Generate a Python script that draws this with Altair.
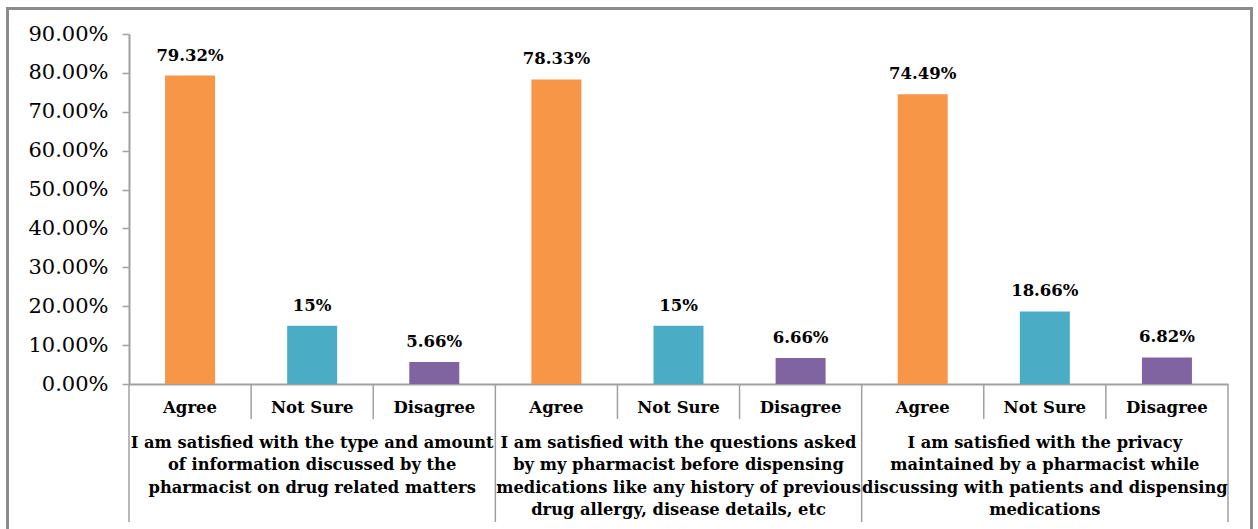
import altair as alt
import pandas as pd

# ---- data ----
responses = ["Agree", "Not Sure", "Disagree",
             "Agree", "Not Sure", "Disagree",
             "Agree", "Not Sure", "Disagree"]
values = [79.32, 15, 5.66, 78.33, 15, 6.66, 74.49, 18.66, 6.82]
value_labels = ["79.32%", "15%", "5.66%", "78.33%", "15%", "6.66%",
                "74.49%", "18.66%", "6.82%"]
group_labels = [
    "I am satisfied with the type and amount\nof information discussed by the\npharmacist on drug related matters",
    "I am satisfied with the questions asked\nby my pharmacist before dispensing\nmedications like any history of previous\ndrug allergy, disease details, etc",
    "I am satisfied with the privacy\nmaintained by a pharmacist while\ndiscussing with patients and dispensing\nmedications",
]
y_ticks = [0, 10, 20, 30, 40, 50, 60, 70, 80, 90]
colors = ["#F79646", "#4BACC6", "#8064A2"]
color_domain = ["Agree", "Not Sure", "Disagree"]

n = len(responses)
per_group = 3

bars = pd.DataFrame({
    "pos": [i + 0.5 for i in range(n)],
    "response": responses,
    "value": values,
    "label": value_labels,
})
groups = pd.DataFrame({
    "pos": [g * per_group + per_group / 2 for g in range(len(group_labels))],
    "text": group_labels,
})
cat_seps = pd.DataFrame({"pos": [i for i in range(1, n) if i % per_group != 0]})
grp_seps = pd.DataFrame({"pos": [i for i in range(0, n + 1, per_group)]})
frame = pd.DataFrame({"k": [0]})

W, H = 1099, 350
GRAY = "#A0A0A0"
FONT = "DejaVu Serif"

xscale = alt.Scale(domain=[0, n], nice=False, zero=False, padding=0)
yscale = alt.Scale(domain=[0, 90], nice=False)
xaxis = alt.Axis(labels=False, ticks=False, grid=False, title=None,
                 domainColor=GRAY, domainWidth=2)
yaxis = alt.Axis(values=y_ticks, labelExpr="format(datum.value / 100, '.2%')",
                 tickSize=7, labelPadding=14, grid=False, title=None,
                 labelOverlap=False, labelFont=FONT, labelFontSize=21,
                 labelColor="#000000", domainColor=GRAY, domainWidth=2,
                 tickColor=GRAY, tickWidth=1.5)


def X():
    return alt.X("pos:Q", scale=xscale, axis=xaxis)


def Y():
    return alt.Y("value:Q", scale=yscale, axis=yaxis)


bar = alt.Chart(bars).mark_bar(size=50).encode(
    x=X(), y=Y(),
    color=alt.Color("response:N", scale=alt.Scale(domain=color_domain, range=colors),
                    legend=None),
)

val_text = alt.Chart(bars).mark_text(font=FONT, fontWeight="bold", fontSize=16.5,
                                     dy=-20, baseline="middle", color="#000000").encode(
    x=X(), y=Y(), text="label:N",
)

cat_text = alt.Chart(bars).mark_text(font=FONT, fontWeight="bold", fontSize=16.5,
                                     baseline="middle", color="#000000").encode(
    x=X(), y=alt.value(374), text="response:N",
)

grp_text = alt.Chart(groups).mark_text(font=FONT, fontWeight="bold", fontSize=16.3,
                                       baseline="top", lineBreak="\n", lineHeight=22.3,
                                       color="#000000").encode(
    x=X(), y=alt.value(401), text="text:N",
)

cat_rules = alt.Chart(cat_seps).mark_rule(color=GRAY, strokeWidth=1.5).encode(
    x=X(), y=alt.value(H), y2=alt.value(H + 35),
)

grp_rules = alt.Chart(grp_seps).mark_rule(color=GRAY, strokeWidth=1.5).encode(
    x=X(), y=alt.value(H), y2=alt.value(H + 138),
)

border = alt.Chart(frame).mark_rect(fill="transparent", stroke="#8C8C8C", strokeWidth=3).encode(
    x=alt.value(-121.5),
    x2=alt.value(1122.5),
    y=alt.value(-25.5),
    y2=alt.value(560),
)

chart = alt.layer(border, cat_rules, grp_rules, bar, val_text, cat_text, grp_text).properties(
    width=W,
    height=H,
    autosize=alt.AutoSizeParams(type="none"),
    padding={"left": 129, "top": 34, "right": 30, "bottom": 145},
    background="#FFFFFF",
).configure_view(stroke="transparent").configure_axis(labelOverlap=False)

chart.save("out.html", embed_options={"renderer": "svg", "actions": False})
